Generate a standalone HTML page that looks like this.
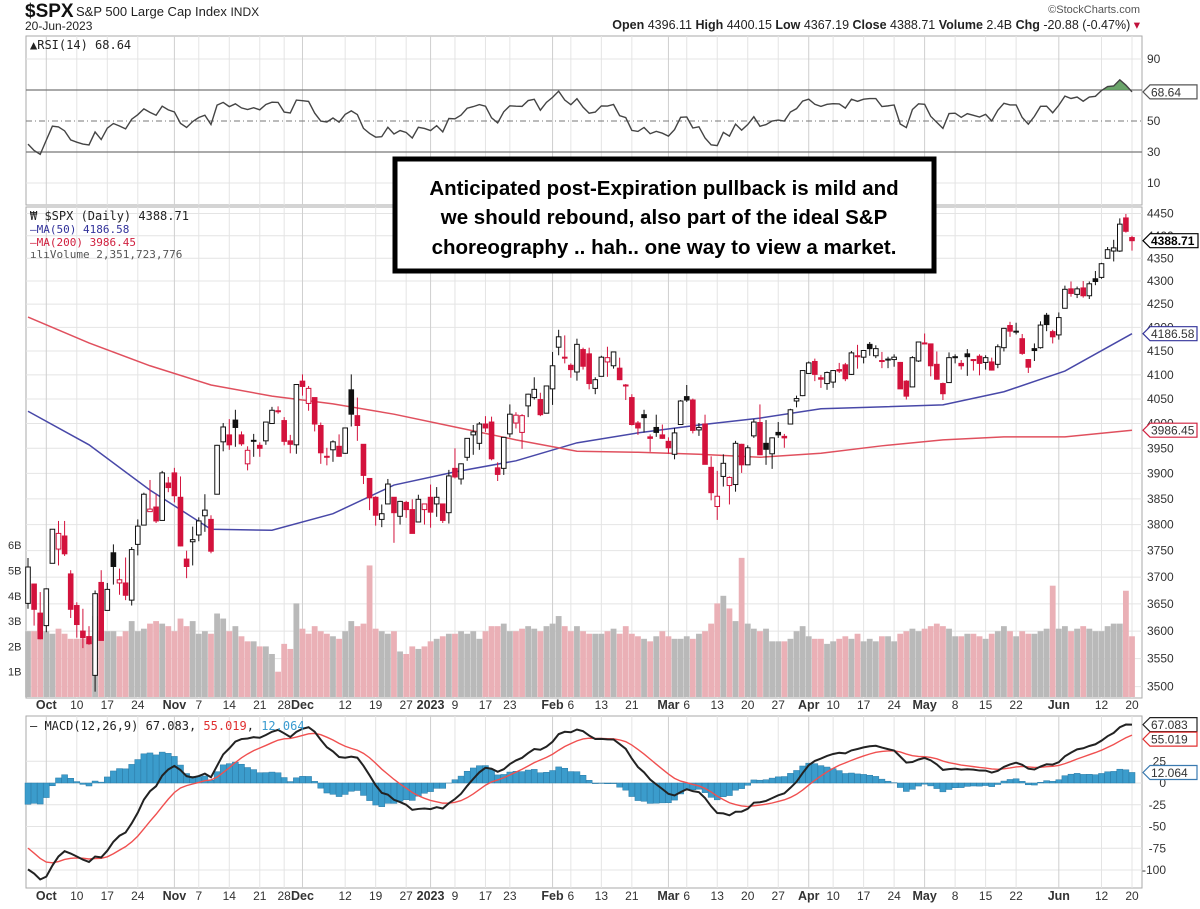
<!DOCTYPE html>
<html><head><meta charset="utf-8">
<style>
body{margin:0;background:#fff;}
svg{display:block;font-family:"Liberation Sans",Arial,sans-serif;}
</style></head>
<body>
<svg id="chart" width="1200" height="909" viewBox="0 0 1200 909" xmlns="http://www.w3.org/2000/svg">
<rect x="0" y="0" width="1200" height="909" fill="#fff"/>
<g>
<text x="25" y="17" font-size="19" font-weight="bold" fill="#111">$SPX</text>
<text x="76" y="16" font-size="13" fill="#222">S&amp;P 500 Large Cap Index <tspan font-size="12">INDX</tspan></text>
<text x="25" y="30" font-size="12" fill="#222">20-Jun-2023</text>
<text x="1140" y="13" font-size="11" fill="#555" text-anchor="end">©StockCharts.com</text>
<text x="1140" y="29" font-size="12.5" fill="#222" text-anchor="end"><tspan font-weight="bold">Open</tspan> 4396.11 <tspan font-weight="bold">High</tspan> 4400.15 <tspan font-weight="bold">Low</tspan> 4367.19 <tspan font-weight="bold">Close</tspan> 4388.71 <tspan font-weight="bold">Volume</tspan> 2.4B <tspan font-weight="bold">Chg</tspan> -20.88 (-0.47%) <tspan fill="#c0103a">▾</tspan></text>
</g>
<g id="grid"></g>
<g id="volume"></g>
<g id="rsi"></g>
<g id="mas"></g>
<g id="candles"></g>
<g id="macd"></g>
<g id="axes"></g>
<g id="tags"></g>
<g font-family="'DejaVu Sans Mono','Liberation Mono',monospace">
<text x="30" y="49" font-size="12" fill="#222">▲RSI(14) 68.64</text>
<text x="30" y="220" font-size="12" fill="#222">₩ $SPX (Daily) 4388.71</text>
<text x="30" y="233" font-size="11" fill="#33339a">—MA(50) 4186.58</text>
<text x="30" y="246" font-size="11" fill="#d0203f">—MA(200) 3986.45</text>
<text x="30" y="258" font-size="11" fill="#555">ılıVolume 2,351,723,776</text>
<text x="30" y="730" font-size="12" fill="#222">— MACD(12,26,9) 67.083, <tspan fill="#e03030">55.019</tspan>, <tspan fill="#3a9bd0">12.064</tspan></text>
</g>
<g>
<rect x="395" y="159" width="539" height="112" fill="#fff" stroke="#000" stroke-width="5"/>
<text x="664" y="195" font-size="20.5" font-weight="bold" text-anchor="middle" fill="#000">Anticipated post-Expiration pullback is mild and</text>
<text x="664" y="224" font-size="20.5" font-weight="bold" text-anchor="middle" fill="#000">we should rebound, also part of the ideal  S&amp;P</text>
<text x="664" y="254" font-size="20.5" font-weight="bold" text-anchor="middle" fill="#000">choreography  .. hah.. one way to view a market.</text>
</g>
</svg>
<script>
const opens=[3651,3687,3633,3610,3726,3753,3778,3706,3647,3600,3590,3520,3690,3638,3746,3689,3689,3657,3762,3799,3825,3834,3808,3881,
3901,3853,3734,3767,3780,3817,3810,3859,3963,3977,4007,3977,3919,3966,3956,3965,4000,4024,4006,3965,3957,
4087,4041,4053,3996,3934,3947,3954,3940,4069,4016,3958,3890,3853,3810,3840,3853,3816,3843,3829,3805,3829,
3853,3840,3840,3823,3910,3889,3932,3977,3960,3999,4003,3911,3910,3979,4001,3982,4036,4053,4049,4021,
4071,4158,4137,4120,4106,4153,4144,4072,4097,4127,4119,4114,4078,4053,4001,4018,3973,3992,3977,
3964,3938,3998,4055,4048,3987,3999,3912,3835,3894,3876,3878,3958,3917,3975,4002,3960,3939,3982,3974,3999,4046,4057,
4103,4128,4094,4082,4085,4111,4121,4101,4140,4137,4164,4140,4130,4132,4132,4126,4087,4075,4129,
4166,4165,4122,4082,4084,4137,4124,4144,4132,4139,4126,4127,4122,4157,4204,4190,4176,4132,4155,4157,4226,4191,
4184,4241,4283,4271,4285,4268,4305,4308,4350,4366,4366,4440,4396];
const highs=[3736,3688,3672,3679,3791,3807,3807,3713,3653,3641,3609,3675,3713,3689,3762,3716,3737,3757,3810,3862,3887,3859,3905,3893,
3911,3894,3750,3796,3814,3859,3818,3957,4001,4009,4028,3984,3954,3979,3962,4003,4034,4035,4013,3977,4080,
4101,4077,4053,4002,3951,3966,3978,3991,4101,4053,3958,3890,3855,3839,3889,3853,3846,3846,3849,3858,3840,
3878,3873,3840,3907,3950,3920,3970,3997,4003,4015,4014,3922,3973,4039,4023,4019,4061,4095,4063,4077,
4148,4195,4183,4124,4176,4157,4157,4095,4140,4159,4148,4136,4081,4060,4005,4028,3978,4018,3998,
3972,3991,4048,4079,4051,4001,4018,3934,3905,3938,3894,3965,3959,3956,4009,4039,4007,3972,4003,3979,4030,4057,4110,
4128,4134,4100,4107,4110,4125,4125,4150,4163,4152,4169,4162,4148,4138,4143,4127,4089,4139,4170,
4187,4165,4149,4084,4147,4143,4131,4154,4133,4143,4141,4136,4164,4199,4212,4210,4186,4133,4166,4213,4231,4195,
4232,4290,4299,4288,4300,4299,4322,4340,4375,4391,4439,4449,4400];
const lows=[3641,3610,3585,3598,3726,3722,3740,3624,3588,3569,3575,3491,3584,3638,3686,3667,3657,3647,3741,3799,3825,3803,3808,3863,
3843,3758,3698,3722,3768,3786,3745,3859,3944,3947,3953,3955,3906,3933,3933,3957,3999,4020,3956,3940,3939,
4057,4026,3984,3919,3916,3923,3933,3939,3994,3965,3879,3828,3798,3795,3840,3765,3800,3813,3783,3805,3800,
3794,3815,3803,3802,3890,3878,3925,3937,3947,3983,3926,3885,3897,3972,3990,3949,4013,4049,4015,4021,
4038,4141,4124,4094,4088,4111,4070,4060,4097,4096,4113,4089,4048,3996,3977,3982,3943,3973,3969,
3939,3928,3998,4044,3980,3975,3918,3847,3809,3874,3839,3864,3901,3917,3971,3937,3917,3909,3971,3951,3999,4033,4056,
4102,4087,4073,4069,4073,4104,4087,4100,4113,4124,4140,4135,4114,4114,4117,4071,4049,4075,4127,
4164,4097,4090,4048,4084,4124,4111,4098,4109,4099,4111,4109,4114,4149,4180,4185,4142,4104,4129,4155,4192,4166,
4174,4241,4266,4263,4264,4261,4291,4305,4349,4343,4364,4407,4367];
const closes=[3719,3640,3586,3678,3791,3783,3744,3640,3612,3588,3577,3669,3583,3677,3720,3695,3666,3752,3797,3859,3830,3807,3901,3872,
3856,3759,3720,3771,3807,3828,3749,3956,3993,3957,3992,3959,3946,3965,3950,4003,4027,4026,3964,3958,4080,
4076,4072,3999,3941,3934,3963,3934,3991,4019,3996,3896,3852,3818,3821,3879,3823,3845,3829,3783,3849,3840,
3824,3853,3808,3895,3893,3919,3970,3983,3999,3991,3929,3898,3972,4019,4017,4016,4060,4070,4018,4077,
4119,4180,4136,4111,4164,4118,4082,4090,4137,4136,4148,4090,4079,3998,3991,4012,3970,3982,3970,
3951,3981,4046,4048,3986,3992,3918,3862,3855,3920,3892,3960,3917,3951,4003,3937,3948,3971,3977,3971,4028,4051,4109,
4125,4101,4091,4105,4109,4108,4092,4146,4138,4151,4155,4155,4130,4133,4137,4071,4056,4136,4169,
4167,4119,4091,4061,4136,4138,4119,4138,4131,4124,4136,4110,4159,4198,4192,4192,4145,4116,4151,4205,4206,4180,
4221,4282,4273,4283,4268,4294,4299,4338,4369,4373,4426,4410,4389];
const volumes=[2.6,2.6,2.9,
2.6,2.5,2.7,2.5,2.3,2.3,2.3,2.2,3.2,2.6,2.6,2.6,2.4,2.6,3.0,2.6,2.7,2.9,3.0,2.9,2.8,
2.6,3.1,2.8,3.0,2.5,2.6,2.5,3.3,3.1,2.6,2.8,2.4,2.2,2.2,2.0,2.0,1.7,1.0,2.1,1.9,3.7,
2.7,2.5,2.8,2.6,2.5,2.4,2.3,2.6,3.0,2.8,2.9,5.2,2.7,2.6,2.5,2.6,1.8,1.7,2.0,1.9,2.0,
2.2,2.3,2.4,2.5,2.5,2.6,2.5,2.6,2.3,2.6,2.8,2.8,2.9,2.6,2.6,2.7,2.8,2.7,2.6,2.8,
2.9,3.2,2.8,2.6,2.8,2.6,2.5,2.5,2.5,2.6,2.7,2.5,2.8,2.5,2.4,2.3,2.2,2.4,2.6,
2.4,2.3,2.3,2.4,2.3,2.5,2.6,2.9,3.7,4.0,3.5,3.0,5.5,2.9,2.7,2.6,2.7,2.2,2.2,2.2,2.3,2.6,2.8,
2.4,2.3,2.3,2.1,2.2,2.3,2.4,2.3,2.5,2.2,2.3,2.2,2.4,2.4,2.2,2.5,2.6,2.7,2.6,
2.7,2.8,2.9,2.8,2.7,2.4,2.4,2.5,2.5,2.4,2.3,2.5,2.6,2.8,2.6,2.4,2.6,2.5,2.5,2.6,2.7,4.4,
2.7,2.8,2.6,2.7,2.8,2.7,2.6,2.6,2.8,2.9,2.9,4.2,2.4];
const preCloses=[3825,3831,3845,3902,3899,3854,3818,3801,3790,3863,3831,3937,3960,3999,3962,3967,3921,3966,4024,4072,4130,
4119,4091,4155,4152,4145,4140,4122,4210,4207,4280,4297,4305,4274,4284,4228,4138,4128,4140,4199,4058,4031,3986,3955,
3966,3924,3909,3980,4006,4067,4110,3932,3946,3901,3873,3900,3856,3790,3758,3693,3655,3647];
const maIdx=[0,10,20,30,40,50,60,70,80,90,100,110,120,130,140,150,160,170,181];
const ma50=[4025,3957,3867,3791,3789,3821,3877,3903,3925,3961,3981,3997,4011,4030,4034,4038,4065,4108,4186.58];
const ma200=[4222,4167,4119,4079,4056,4040,4019,3993,3967,3944,3942,3938,3932,3940,3955,3967,3973,3973,3986.45];
const priceTicks=[3500,3550,3600,3650,3700,3750,3800,3850,3900,3950,4000,4050,4100,4150,4200,4250,4300,4350,4400,4450];
const rsiTicks=[90,50,30,10];
const macdTicks=[25,0,-25,-50,-75,-100];
const volTicks=[1,2,3,4,5,6];
const dateTicks=[[3,"Oct",1],[8,"10",0],[13,"17",0],[18,"24",0],[24,"Nov",1],[28,"7",0],[33,"14",0],[38,"21",0],[42,"28",0],[45,"Dec",1],[52,"12",0],[57,"19",0],[62,"27",0],[66,"2023",1],[70,"9",0],[75,"17",0],[79,"23",0],[86,"Feb",1],[89,"6",0],[94,"13",0],[99,"21",0],[105,"Mar",1],[108,"6",0],[113,"13",0],[118,"20",0],[123,"27",0],[128,"Apr",1],[132,"10",0],[137,"17",0],[142,"24",0],[147,"May",1],[152,"8",0],[157,"15",0],[162,"22",0],[169,"Jun",1],[176,"12",0],[181,"20",0]];

const NS="http://www.w3.org/2000/svg";
function mk(tag,attrs,parent){const e=document.createElementNS(NS,tag);for(const k in attrs)e.setAttribute(k,attrs[k]);parent.appendChild(e);return e;}
const L=26,R=1142;
const RT=36,RB=205,PT=207,PB=698,MT=716,MB=888;
const step=(1132-28)/(closes.length-1);
const xi=i=>28+i*step;
const yP=p=>213.5+1970*Math.log(4450/p);
const yR=v=>121-(v-50)*1.55;
const yM=v=>783-v*0.87;
const yV=v=>697-v*25.3;

const grid=document.getElementById('grid');
// panel frames
[[RT,RB],[PT,PB],[MT,MB]].forEach(([t,b],k)=>{
  const r=mk('rect',{x:L,y:t,width:R-L,height:b-t,fill:'none',stroke:'#aaa','stroke-width':1},grid);
  
  
});
// horizontal grids
priceTicks.forEach(p=>{const l=mk('line',{x1:L,x2:R,y1:yP(p),y2:yP(p),stroke:'#e4e4e4'},grid);
  });
[90,10].forEach(v=>{const l=mk('line',{x1:L,x2:R,y1:yR(v),y2:yR(v),stroke:'#e4e4e4'},grid);
  });
macdTicks.forEach(v=>{const l=mk('line',{x1:L,x2:R,y1:yM(v),y2:yM(v),stroke:'#e4e4e4'},grid);
  });
// vertical grids
dateTicks.forEach(([i,lab,b])=>{
  [[RT,RB],[PT,PB],[MT,MB]].forEach(([t,bt])=>{
    const l=mk('line',{x1:xi(i),x2:xi(i),y1:t,y2:bt,stroke:b?'#cfcfcf':'#e4e4e4'},grid);
    
  });
});
// RSI reference lines
[[70,'none'],[30,'none'],[50,'6 3 1 3']].forEach(([v,d])=>{
  const l=mk('line',{x1:L,x2:R,y1:yR(v),y2:yR(v),stroke:'#777','stroke-width':v==50?1:1.3,'stroke-dasharray':d},grid);
  
});

// volume
const vg=document.getElementById('volume');
volumes.forEach((v,i)=>{
  const down=i>0&&closes[i]<closes[i-1];
  const r=mk('rect',{x:xi(i)-2.9,y:yV(v),width:5.8,height:697-yV(v),fill:down?'#eab0b6':'#b9b9b9'},vg);
  
});

// RSI computation
const all=preCloses.concat(closes);const off=preCloses.length;
let ag=0,al=0;const rsi=[];
for(let k=1;k<all.length;k++){const d=all[k]-all[k-1];const g=Math.max(d,0),lo=Math.max(-d,0);
  if(k<=14){ag+=g/14;al+=lo/14;}else{ag=(ag*13+g)/14;al=(al*13+lo)/14;}
  rsi[k]=al===0?100:100-100/(1+ag/al);}
const rg=document.getElementById('rsi');
let rp=[];for(let i=0;i<closes.length;i++)rp.push([xi(i),yR(rsi[i+off])]);
// green fill above 70
const clip=mk('clipPath',{id:'above70'},rg);mk('rect',{x:L,y:RT,width:R-L,height:yR(70)-RT},clip);
const fillPts=rp.map(p=>p.join(',')).join(' ')+` ${rp[rp.length-1][0]},${yR(70)} ${rp[0][0]},${yR(70)}`;
const f=mk('polygon',{points:fillPts,fill:'#5a9a5a','clip-path':'url(#above70)',opacity:0.9},rg);

const rl=mk('polyline',{points:rp.map(p=>p.join(',')).join(' '),fill:'none',stroke:'#444','stroke-width':1.4},rg);


// MAs
const mg=document.getElementById('mas');
const m50=mk('polyline',{points:maIdx.map((i,k)=>xi(i)+','+yP(ma50[k])).join(' '),fill:'none',stroke:'#4848a8','stroke-width':1.5},mg);

const m200=mk('polyline',{points:maIdx.map((i,k)=>xi(i)+','+yP(ma200[k])).join(' '),fill:'none',stroke:'#e0505e','stroke-width':1.5},mg);


// candles
const cg=document.getElementById('candles');
closes.forEach((c,i)=>{
  const o=opens[i],prev=i>0?closes[i-1]:preCloses[preCloses.length-1];
  const col=c>=prev?'#111':'#d3123c';
  const g=mk('g',{},cg);
  
  const x=xi(i);
  mk('line',{x1:x,x2:x,y1:yP(highs[i]),y2:yP(lows[i]),stroke:col,'stroke-width':1},g);
  const top=yP(Math.max(o,c)),bot=yP(Math.min(o,c));
  mk('rect',{x:x-2.3,y:top,width:4.6,height:Math.max(bot-top,1),fill:c>o?'#fff':col,stroke:col,'stroke-width':1},g);
});

// MACD
function ema(arr,n){const k=2/(n+1);const out=[arr[0]];for(let j=1;j<arr.length;j++)out.push(arr[j]*k+out[j-1]*(1-k));return out;}
const e12=ema(all,12),e26=ema(all,26);const macdAll=all.map((v,j)=>e12[j]-e26[j]);const sigAll=ema(macdAll,9);
const macd=closes.map((c,i)=>macdAll[i+off]),sig=closes.map((c,i)=>sigAll[i+off]);
const mcg=document.getElementById('macd');
macd.forEach((m,i)=>{const h=m-sig[i];const y0=yM(0),y1=yM(h);
  const r=mk('rect',{x:xi(i)-3,y:Math.min(y0,y1),width:6,height:Math.abs(y1-y0),fill:'#3b9ccc',stroke:'#2a7aa6','stroke-width':0.5},mcg);
  });
const sl=mk('polyline',{points:sig.map((v,i)=>xi(i)+','+yM(v)).join(' '),fill:'none',stroke:'#f05050','stroke-width':1.4},mcg);

const ml=mk('polyline',{points:macd.map((v,i)=>xi(i)+','+yM(v)).join(' '),fill:'none',stroke:'#222','stroke-width':2},mcg);


// axes labels
const ax=document.getElementById('axes');
function txt(x,y,s,attrs,name){const t=mk('text',Object.assign({x:x,y:y,'font-size':12,fill:'#333'},attrs||{}),ax);t.textContent=s;
  return t;}
priceTicks.forEach(p=>txt(1147,yP(p)+4,String(p),{},'price-tick-label'));
rsiTicks.forEach(v=>txt(1147,yR(v)+4,String(v),{},'rsi-tick-label'));
macdTicks.forEach(v=>txt(1166,yM(v)+4,String(v),{'text-anchor':'end'},'macd-tick-label'));
volTicks.forEach(v=>txt(8,yV(v)+4,v+'B',{'font-size':11},'volume-tick-label'));
dateTicks.forEach(([i,lab,b])=>{
  [709,900].forEach(y=>txt(xi(i),y,lab,{'text-anchor':'middle','font-weight':b?'bold':'normal','font-size':b?12.5:12},'date-tick-label'));
});

// value tags
const tg=document.getElementById('tags');
function tag(y,s,col,bold,name){
  const g=mk('g',{},tg);
  const w=bold?55:54;
  mk('path',{d:`M1143,${y} L1150,${y-7} L${1143+w},${y-7} L${1143+w},${y+7} L1150,${y+7} Z`,fill:'#fff',stroke:col,'stroke-width':1.2},g);
  const t=mk('text',{x:1151,y:y+4.5,'font-size':12,fill:bold?'#000':'#333','font-weight':bold?'bold':'normal'},g);t.textContent=s;
}
tag(yR(rsi[rsi.length-1]),'68.64','#555',false,'rsi-value-tag');
tag(yP(closes[closes.length-1]),'4388.71','#000',true,'price-value-tag');
tag(yP(ma50[ma50.length-1]),'4186.58','#33339a',false,'ma50-value-tag');
tag(yP(ma200[ma200.length-1]),'3986.45','#d0203f',false,'ma200-value-tag');
tag(yM(67.083),'67.083','#222',false,'macd-value-tag');
tag(yM(55.019)+4,'55.019','#e03030',false,'signal-value-tag');
tag(yM(12.064),'12.064','#3a7ab0',false,'histogram-value-tag');
</script>
</body></html>
